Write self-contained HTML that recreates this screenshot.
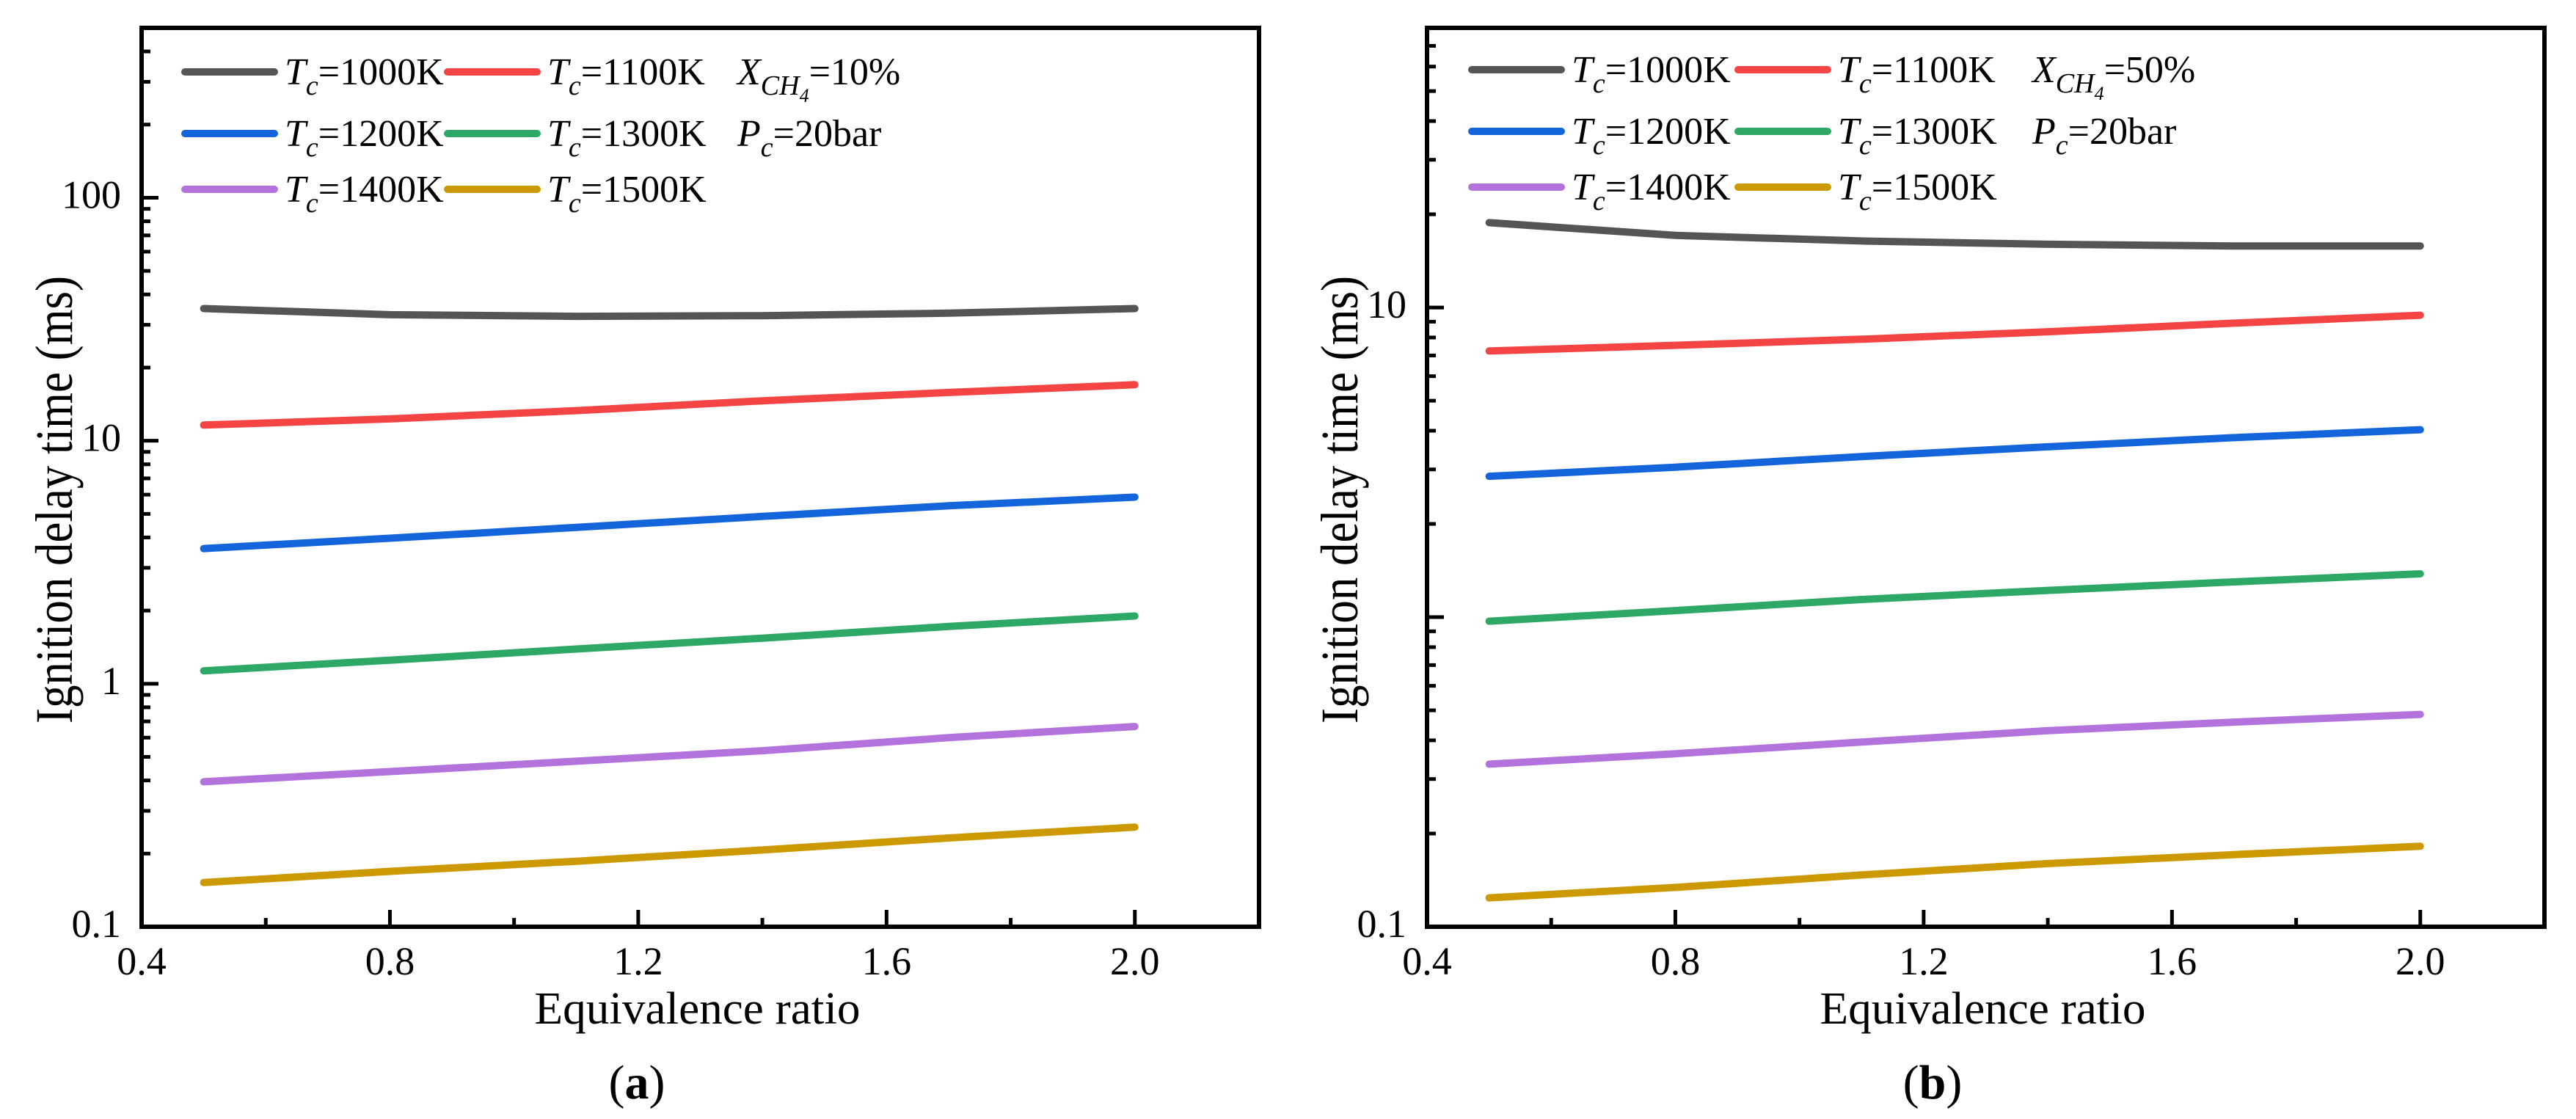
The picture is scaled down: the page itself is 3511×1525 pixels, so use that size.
<!DOCTYPE html>
<html><head><meta charset="utf-8"><style>
html,body{margin:0;padding:0;background:#fff;}
svg{display:block;font-family:"Liberation Serif",serif;}
</style></head><body>
<svg id="fig" width="3511" height="1525" viewBox="0 0 3511 1525" xmlns="http://www.w3.org/2000/svg"></svg>
<script>
// ---- data ----
const phi = [0.5, 0.8, 1.1, 1.4, 1.7, 2.0];
const seriesNames = ["1000K","1100K","1200K","1300K","1400K","1500K"];
const colors = ["#555555","#f44444","#1464dc","#2ea866","#b473dc","#cc9900"];
const a1000 = [35, 33, 32.5, 32.7, 33.5, 35];
const a1100 = [11.6, 12.3, 13.3, 14.6, 15.8, 17];
const a1200 = [3.6, 3.97, 4.4, 4.88, 5.4, 5.86];
const a1300 = [1.13, 1.25, 1.39, 1.54, 1.72, 1.9];
const a1400 = [0.395, 0.435, 0.48, 0.53, 0.6, 0.667];
const a1500 = [0.152, 0.169, 0.186, 0.207, 0.232, 0.257];
const b1000 = [18.8, 17.1, 16.4, 16.0, 15.8, 15.8];
const b1100 = [7.24, 7.55, 7.9, 8.35, 8.9, 9.44];
const b1200 = [2.85, 3.05, 3.3, 3.55, 3.8, 4.03];
const b1300 = [0.97, 1.05, 1.14, 1.22, 1.3, 1.38];
const b1400 = [0.335, 0.362, 0.395, 0.43, 0.458, 0.485];
const b1500 = [0.124, 0.134, 0.147, 0.16, 0.171, 0.182];
const xTicks = [0.4, 0.8, 1.2, 1.6, 2.0];
const xMinor = [0.6, 1.0, 1.4, 1.8];
const yLabelsA = [0.1, 1, 10, 100];
const yLabelsB = [0.1, 10];

const NS = "http://www.w3.org/2000/svg";
const svg = document.getElementById("fig");
function el(tag, attrs, parent){
  const e = document.createElementNS(NS, tag);
  for (const k in attrs) e.setAttribute(k, attrs[k]);
  (parent||svg).appendChild(e);
  return e;
}

function panel(cfg){
  const g = el("g", {});
  
  
  const L=cfg.left, R=cfg.right, T=38, B=1263;
  const xs = v => L + (v-0.4)/(2.2-0.4)*(R-L);
  const lmin = Math.log10(0.1), lmax = Math.log10(cfg.ymax);
  const ys = v => B - (Math.log10(v)-lmin)/(lmax-lmin)*(B-T);
  cfg.series.forEach((s,i)=>{
    const pts = phi.map((p,j)=>xs(p).toFixed(1)+","+ys(s[j]).toFixed(1)).join(" ");
    const pl = el("polyline",{points:pts,fill:"none",stroke:colors[i],"stroke-width":10,"stroke-linecap":"round","stroke-linejoin":"round"},g);
    
    
  });
  const fr = el("rect",{x:L,y:T,width:R-L,height:B-T,fill:"none",stroke:"#000","stroke-width":6},g);
  
  
  xTicks.forEach(v=>{
    el("line",{x1:xs(v),x2:xs(v),y1:B,y2:B-23,stroke:"#000","stroke-width":5},g);
    const t = el("text",{x:xs(v),y:1328,"font-size":54,"text-anchor":"middle"},g);
    t.textContent = v.toFixed(1);
    
    
  });
  xMinor.forEach(v=>el("line",{x1:xs(v),x2:xs(v),y1:B,y2:B-12,stroke:"#000","stroke-width":5},g));
  for (let d=-1; d<=3; d++){
    for (let m=1; m<=9; m++){
      const v = m*Math.pow(10,d);
      if (v<0.1-1e-9 || v>cfg.ymax+1e-9) continue;
      const len = m===1?23:12;
      el("line",{x1:L,x2:L+len,y1:ys(v),y2:ys(v),stroke:"#000","stroke-width":5},g);
    }
  }
  cfg.ylabels.forEach(v=>{
    const t = el("text",{x:L-28,y:ys(v)+14,"font-size":54,"text-anchor":"end"},g);
    t.textContent = String(v);
    
    
  });
  const xt = el("text",{x:(L+R)/2-4,y:1395,"font-size":62,"text-anchor":"middle",textLength:444,lengthAdjust:"spacingAndGlyphs"},g);
  xt.textContent = "Equivalence ratio";
  
  
  const yt = el("text",{x:0,y:0,"font-size":72,"text-anchor":"middle",textLength:610,lengthAdjust:"spacingAndGlyphs",transform:`translate(${L-95},681) rotate(-90)`},g);
  yt.textContent = "Ignition delay time (ms)";
  
  
  const cap = el("text",{x:cfg.capx,y:1497,"font-size":66,"text-anchor":"middle"},g);
  cap.innerHTML = '(<tspan font-weight="bold">'+cfg.letter+'</tspan>)';
  
  
  const rows=[cfg.ly, cfg.ly+84, cfg.ly+160];
  const cols=[cfg.lx1, cfg.lx2];
  seriesNames.forEach((n,i)=>{
    const r=Math.floor(i/2), c=i%2;
    const lg = el("g",{},g);
    
    
    el("line",{x1:cols[c],x2:cols[c]+122,y1:rows[r],y2:rows[r],stroke:colors[i],"stroke-width":10,"stroke-linecap":"round"},lg);
    const t = el("text",{x:cols[c]+136,y:rows[r]+17,"font-size":52},lg);
    t.innerHTML = '<tspan font-style="italic">T</tspan><tspan font-style="italic" font-size="38" dy="14">c</tspan><tspan dy="-14">='+n+'</tspan>';
  });
  const c1 = el("text",{x:cfg.lx3,y:rows[0]+17,"font-size":52},g);
  c1.innerHTML = '<tspan font-style="italic">X</tspan><tspan font-style="italic" font-size="38" dy="14">CH</tspan><tspan font-style="italic" font-size="26" dy="10">4</tspan><tspan dy="-24">='+cfg.x+'</tspan>';
  
  
  const c2 = el("text",{x:cfg.lx3,y:rows[1]+17,"font-size":52},g);
  c2.innerHTML = '<tspan font-style="italic">P</tspan><tspan font-style="italic" font-size="38" dy="14">c</tspan><tspan dy="-14">=20bar</tspan>';
  
  
}

panel({name:"panel-a",left:193,right:1716,ymax:500,ylabels:yLabelsA,letter:"a",capx:868,
  series:[a1000,a1100,a1200,a1300,a1400,a1500],lx1:252,lx2:610,lx3:1005,ly:98,x:"10%"});
panel({name:"panel-b",left:1945,right:3468,ymax:80,ylabels:yLabelsB,letter:"b",capx:2634,
  series:[b1000,b1100,b1200,b1300,b1400,b1500],lx1:2006,lx2:2369,lx3:2770,ly:95,x:"50%"});
</script>
</body></html>
